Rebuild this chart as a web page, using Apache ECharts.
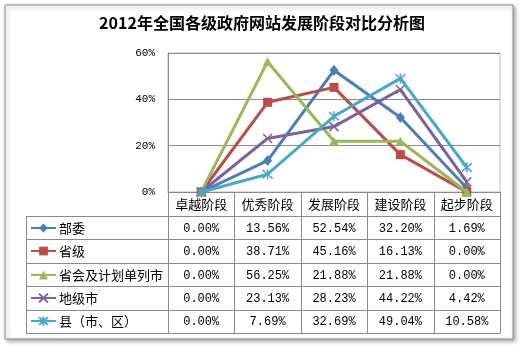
<!DOCTYPE html>
<html><head><meta charset="utf-8">
<script src="https://cdn.jsdelivr.net/npm/echarts@6/dist/echarts.min.js"></script>
<style>html,body{margin:0;padding:0;background:#fff}#c{width:530px;height:347px}</style>
</head><body><div id="c"></div>
<script>
const titleText = '2012年全国各级政府网站发展阶段对比分析图';
const categories = ['卓越阶段','优秀阶段','发展阶段','建设阶段','起步阶段'];
const seriesNames = ['部委','省级','省会及计划单列市','地级市','县（市、区）'];
const buwei   = [0, 13.56, 52.54, 32.20, 1.69];
const shengji = [0, 38.71, 45.16, 16.13, 0];
const shenghui= [0, 56.25, 21.88, 21.88, 0];
const dijishi = [0, 23.13, 28.23, 44.22, 4.42];
const xian    = [0, 7.69, 32.69, 49.04, 10.58];
const yTickLabels = ['0%','20%','40%','60%'];

const allData = [buwei, shengji, shenghui, dijishi, xian];
const colors = ['#4A7EBB','#BE4B48','#98B954','#7D60A0','#46AAC5'];
const symbols = ['diamond','rect','triangle',
  'path://M0,0 L10,10 M10,0 L0,10',
  'path://M0,0 L10,10 M10,0 L0,10 M5,-1 L5,11'];
const symbolSizes = [[9,11],9,[10,9],9,10];

const L = 168, R = 500, T = 53, B = 192, headerH = 24, rowH = 23.4, legendL = 26;
const colW = (R - L) / categories.length;
const tableBottom = B + headerH + rowH * seriesNames.length;
const lineColor = '#8a8a8a';

const chart = echarts.init(document.getElementById('c'));
const graphic = [];
graphic.push({type:'rect', shape:{x:5,y:5,width:508,height:334},
  style:{fill:'#fff', stroke:'#8c8c8c', lineWidth:1, shadowBlur:4, shadowOffsetX:2, shadowOffsetY:2, shadowColor:'rgba(0,0,0,0.35)'}, z:-10});
graphic.push({type:'text', x:262, y:23, style:{text:titleText, font:'bold 16px "Noto Sans CJK SC"', fill:'#000', align:'center', verticalAlign:'middle'}});
for (let i = 0; i <= seriesNames.length; i++) {
  const y = Math.round(B + headerH + i*rowH) + 0.5;
  graphic.push({type:'line', shape:{x1:legendL, y1:y, x2:R, y2:y}, style:{stroke:lineColor, lineWidth:1}});
}
graphic.push({type:'line', shape:{x1:legendL+0.5, y1:B+headerH, x2:legendL+0.5, y2:Math.round(tableBottom)+0.5}, style:{stroke:lineColor, lineWidth:1}});
for (let j = 0; j <= categories.length; j++) {
  const x = Math.round(L + j*colW) + 0.5;
  graphic.push({type:'line', shape:{x1:x, y1:B, x2:x, y2:Math.round(tableBottom)+0.5}, style:{stroke:lineColor, lineWidth:1}});
}
allData.forEach((arr, i) => {
  arr.forEach((v, j) => {
    graphic.push({type:'text', x: L + (j+0.5)*colW, y: B + headerH + (i+0.5)*rowH + 1,
      style:{text: v.toFixed(2) + '%', font:'12px "Liberation Mono"', fill:'#000', align:'center', verticalAlign:'middle'}});
  });
});

const legends = seriesNames.map((n, i) => ({
  orient:'horizontal', left:30, top: Math.round(B + headerH + (i+0.5)*rowH - 7),
  itemWidth:25, itemHeight:11, padding:0, itemGap:0,
  data:[n],
  textStyle:{fontSize:13, fontFamily:'Noto Sans CJK SC', color:'#000', lineHeight:14, padding:[0,0,0,-2]}
}));

chart.setOption({
  animation:false,
  backgroundColor:'#fff',
  grid:{left:L, right:530-R, top:T, bottom:347-B, show:true, borderColor:'#bdbdbd', borderWidth:1},
  legend: legends,
  xAxis:{type:'category', data:categories, boundaryGap:true,
    axisLine:{lineStyle:{color:lineColor}}, axisTick:{show:false},
    axisLabel:{interval:0, margin:6, fontSize:13, fontFamily:'Noto Sans CJK SC', color:'#000'}},
  yAxis:{type:'value', min:0, max:60, interval:20,
    axisLine:{show:true, lineStyle:{color:lineColor}}, axisTick:{show:false},
    splitLine:{lineStyle:{color:lineColor}},
    axisLabel:{margin:13, fontSize:11, fontFamily:'Liberation Mono', color:'#000',
      formatter:(v)=>yTickLabels[v/20]}},
  graphic: graphic,
  series: allData.map((arr, i) => ({
    name: seriesNames[i], type:'line', data: arr, clip:false,
    symbol: symbols[i], symbolSize: symbolSizes[i], showAllSymbol:true,
    lineStyle:{color:colors[i], width:3},
    itemStyle:{color: i>=3 ? 'rgba(0,0,0,0)' : colors[i], borderColor:colors[i], borderWidth: i>=3 ? 1.5 : 0, opacity:1},
    z: 2 + i
  }))
});
</script></body></html>
